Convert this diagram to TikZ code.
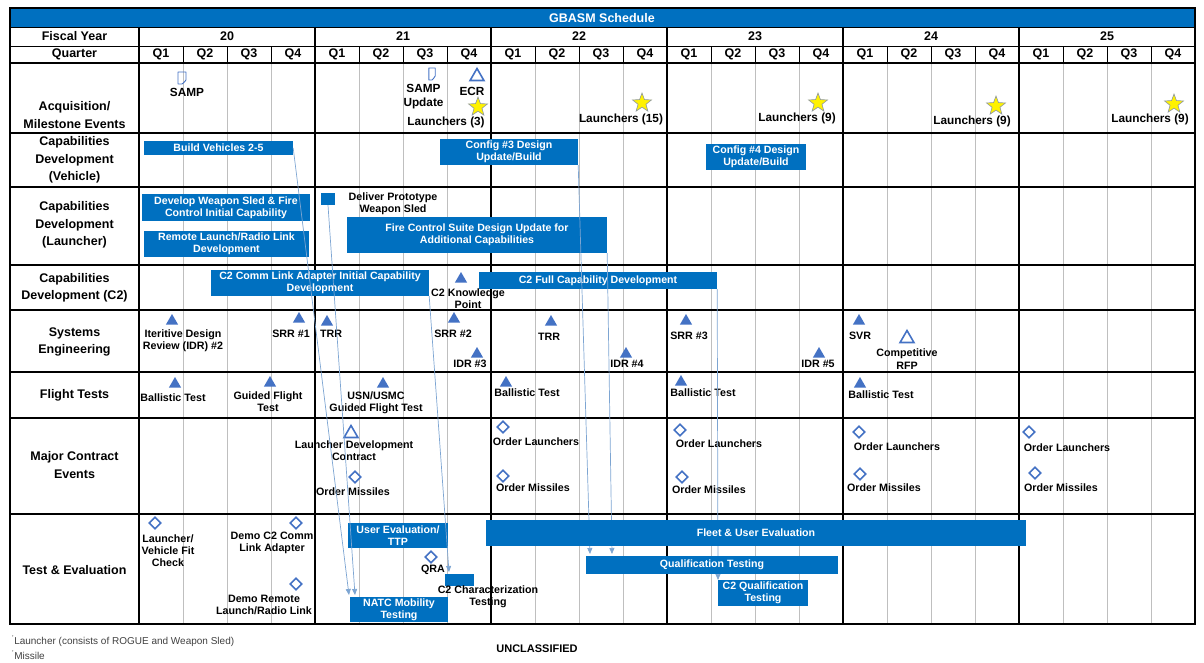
\documentclass[tikz,border=0pt]{standalone}
\usepackage{fontspec}
\setmainfont{Liberation Sans}
\usetikzlibrary{shapes.geometric,arrows.meta}

\definecolor{barblue}{RGB}{0,112,192}
\definecolor{mileblue}{RGB}{68,114,196}
\definecolor{linkblue}{RGB}{125,165,210}
\definecolor{gridgray}{RGB}{191,191,191}
\definecolor{starline}{RGB}{140,150,160}

\newcommand\hdfont{\fontsize{12.5}{17.5}\selectfont\bfseries}
\newcommand\acqfont{\fontsize{11.8}{14}\selectfont\bfseries}
\newcommand\evfont{\fontsize{10.7}{12.3}\selectfont\bfseries}
\newcommand\barfont{\fontsize{10.6}{12}\selectfont\bfseries}

\tikzset{
  hdr/.style={font=\hdfont, align=center, inner sep=0pt},
  bar/.style={fill=barblue, text=white, font=\barfont, align=center, inner sep=0pt},
  evt/.style={font=\evfont, align=center, inner sep=0pt},
  acq/.style={font=\acqfont, align=center, inner sep=0pt},
  tri/.style={regular polygon, regular polygon sides=3, fill=mileblue, inner sep=0pt, minimum size=14pt},
  opentri/.style={regular polygon, regular polygon sides=3, draw=mileblue, line width=1.6pt, inner sep=0pt, minimum size=16pt},
  dia/.style={diamond, draw=mileblue, line width=1.6pt, fill=white, inner sep=0pt, minimum size=12pt},
  launchstar/.style={star, star points=5, star point ratio=2.4, fill=yellow, draw=starline, line width=0.6pt, inner sep=0pt, minimum size=20pt},
  link/.style={draw=linkblue, line width=0.7pt, -{Triangle[width=5pt,length=6pt]}},
  docicon/.pic={\draw[mileblue, line width=0.9pt, line join=round] (-4,-6) -- (4,-6) -- (4,2) .. controls (3,5) and (1,4) .. (0,6) -- (-4,6) -- cycle;}
}

\begin{document}
\begin{tikzpicture}[x=1pt,y=-1pt]
    \useasboundingbox (0,0) rectangle (1204,662);

    % Title bar
    \fill[barblue] (10,8) rectangle (1195,27);
    \node[hdr, text=white] (title) at (602,18) {GBASM Schedule};

    % Grid
    \foreach \i in {1,...,23}{
        \draw[line width=0.8pt] ({139+44*\i},46) -- ({139+44*\i},63);
        \pgfmathtruncatemacro\r{mod(\i,4)}
        \ifnum\r>0 \draw[gridgray, line width=0.8pt] ({139+44*\i},63) -- ({139+44*\i},624); \fi
    }
    \foreach \x in {139,315,491,667,843,1019} \draw[line width=1.6pt] (\x,27) -- (\x,624);
    \foreach \y in {63,133,187,265,310,372,418,514} \draw[line width=1.6pt] (10,\y) -- (1195,\y);
    \draw[line width=1pt] (10,27) -- (1195,27) (10,46) -- (1195,46);
    \draw[line width=1.8pt] (10,8) rectangle (1195,624);

    % Header
    \node[hdr] (fy) at (74.5,36.5) {Fiscal Year};
    \node[hdr] (qtr) at (74.5,54.5) {Quarter};
    \foreach \k/\yr in {0/20,1/21,2/22,3/23,4/24,5/25}{
        \node[hdr] (fy\yr) at ({227+176*\k},36.5) {\yr};
        \foreach \q in {1,...,4}
            \node[hdr] (q\yr\q) at ({117+176*\k+44*\q},54.5) {Q\q};
    }

    % Row labels
    \node[hdr] (lacq) at (74.5,115) {Acquisition/\\Milestone Events};
    \node[hdr] (lveh) at (74.5,160) {Capabilities\\Development\\(Vehicle)};
    \node[hdr] (llch) at (74.5,225) {Capabilities\\Development\\(Launcher)};
    \node[hdr] (lc2) at (74.5,288) {Capabilities\\Development (C2)};
    \node[hdr] (lse) at (74.5,342) {Systems\\Engineering};
    \node[hdr] (lft) at (74.5,395) {Flight Tests};
    \node[hdr] (lmce) at (74.5,465) {Major Contract\\Events};
    \node[hdr] (lte) at (74.5,570) {Test \& Evaluation};

    % Acquisition / milestones
    \pic (sampdoc) at (182,78) {docicon};
    \node[acq] (samp) at (187,92) {SAMP};
    \pic[xscale=0.8] (sampupdoc) at (432,74) {docicon};
    \node[acq] (sampup) at (423.5,97) {SAMP\\Update};
    \node[opentri] (ecrtri) at (477,76.5) {};
    \node[acq] (ecr) at (472,91) {ECR};
    \node[launchstar] (st1) at (478,107) {};
    \node[acq] (ln1) at (446,122) {Launchers (3)};
    \node[launchstar] (st2) at (642,103) {};
    \node[acq] (ln2) at (621,119) {Launchers (15)};
    \node[launchstar] (st3) at (818,103) {};
    \node[acq] (ln3) at (797,118) {Launchers (9)};
    \node[launchstar] (st4) at (996,106) {};
    \node[acq] (ln4) at (972,121) {Launchers (9)};
    \node[launchstar] (st5) at (1174,104) {};
    \node[acq] (ln5) at (1150,119) {Launchers (9)};

    % Capability bars
    \node[bar, minimum width=149pt, minimum height=14pt] (bv) at (218.5,148) {Build Vehicles 2-5};
    \node[bar, minimum width=138pt, minimum height=26pt] (cfg3) at (509,152) {Config \#3 Design\\Update/Build};
    \node[bar, minimum width=100pt, minimum height=26pt] (cfg4) at (756,157) {Config \#4 Design\\Update/Build};
    \node[bar, minimum width=168pt, minimum height=27pt] (dws) at (226,207.5) {Develop Weapon Sled \& Fire\\Control Initial Capability};
    \node[bar, minimum width=165pt, minimum height=26pt] (rlr) at (226.5,244) {Remote Launch/Radio Link\\Development};
    \node[bar, minimum width=14pt, minimum height=12pt] (sq) at (328,199) {};
    \node[evt] (dpws) at (393,204) {Deliver Prototype\\Weapon Sled};
    \node[bar, minimum width=260pt, minimum height=36pt] (fcs) at (477,235) {Fire Control Suite Design Update for\\Additional Capabilities};
    \node[bar, minimum width=218pt, minimum height=26pt] (c2a) at (320,283) {C2 Comm Link Adapter Initial Capability\\Development};
    \node[tri] (kptri) at (461,279) {};
    \node[evt] (kp) at (468,298.5) {C2 Knowledge\\Point};
    \node[bar, minimum width=238pt, minimum height=17pt] (c2f) at (598,280.5) {C2 Full Capability Development};

    % Systems engineering
    \node[tri] (idr2tri) at (172,321) {};
    \node[evt] (idr2) at (183,340.5) {Iteritive Design\\Review (IDR) \#2};
    \node[tri] (srr1tri) at (299,319) {};
    \node[evt] (srr1) at (291,334) {SRR \#1};
    \node[tri] (trr1tri) at (327,322) {};
    \node[evt] (trr1) at (331,334) {TRR};
    \node[tri] (srr2tri) at (454,319) {};
    \node[evt] (srr2) at (453,334) {SRR \#2};
    \node[tri] (idr3tri) at (477,354) {};
    \node[evt] (idr3) at (470,364) {IDR \#3};
    \node[tri] (trr2tri) at (551,322) {};
    \node[evt] (trr2) at (549,337) {TRR};
    \node[tri] (idr4tri) at (626,354) {};
    \node[evt] (idr4) at (627,364) {IDR \#4};
    \node[tri] (srr3tri) at (686,321) {};
    \node[evt] (srr3) at (689,336) {SRR \#3};
    \node[tri] (idr5tri) at (819,354) {};
    \node[evt] (idr5) at (818,364) {IDR \#5};
    \node[tri] (svrtri) at (859,321) {};
    \node[evt] (svr) at (860,336) {SVR};
    \node[opentri] (rfptri) at (907,338.5) {};
    \node[evt] (rfp) at (907,359) {Competitive\\RFP};

    % Flight tests
    \node[tri] (bt1tri) at (175,384) {};
    \node[evt] (bt1) at (173,398) {Ballistic Test};
    \node[tri] (gfttri) at (270,383) {};
    \node[evt] (gft) at (268,402) {Guided Flight\\Test};
    \node[tri] (usntri) at (383,384) {};
    \node[evt] (usn) at (376,403) {USN/USMC\\Guided Flight Test};
    \node[tri] (bt2tri) at (506,383) {};
    \node[evt] (bt2) at (527,393) {Ballistic Test};
    \node[tri] (bt3tri) at (681,382) {};
    \node[evt] (bt3) at (703,393) {Ballistic Test};
    \node[tri] (bt4tri) at (860,384) {};
    \node[evt] (bt4) at (881,395) {Ballistic Test};

    % Major contract events
    \node[opentri] (ldctri) at (351,433.5) {};
    \node[evt] (ldc) at (354,451) {Launcher Development\\Contract};
    \node[dia] (om1dia) at (355,477) {};
    \node[evt] (om1) at (353,492) {Order Missiles};
    \node[dia] (ol2dia) at (503,427) {};
    \node[evt] (ol2) at (536,442) {Order Launchers};
    \node[dia] (om2dia) at (503,476) {};
    \node[evt] (om2) at (533,488) {Order Missiles};
    \node[dia] (ol3dia) at (680,430) {};
    \node[evt] (ol3) at (719,444) {Order Launchers};
    \node[dia] (om3dia) at (682,477) {};
    \node[evt] (om3) at (709,490) {Order Missiles};
    \node[dia] (ol4dia) at (859,432) {};
    \node[evt] (ol4) at (897,447) {Order Launchers};
    \node[dia] (om4dia) at (860,474) {};
    \node[evt] (om4) at (884,488) {Order Missiles};
    \node[dia] (ol5dia) at (1029,432) {};
    \node[evt] (ol5) at (1067,448) {Order Launchers};
    \node[dia] (om5dia) at (1035,473) {};
    \node[evt] (om5) at (1061,488) {Order Missiles};

    % Test & evaluation
    \node[dia] (fitdia) at (155,523) {};
    \node[evt] (fit) at (168,550.5) {Launcher/\\Vehicle Fit\\Check};
    \node[dia] (dc2dia) at (296,523) {};
    \node[evt] (dc2) at (272,543) {Demo C2 Comm\\Link Adapter};
    \node[dia] (drldia) at (296,584) {};
    \node[evt] (drl) at (264,605) {Demo Remote\\Launch/Radio Link};
    \node[bar, minimum width=100pt, minimum height=25pt] (uet) at (398,535.5) {User Evaluation/\\TTP};
    \node[dia] (qradia) at (431,557) {};
    \node[evt] (qra) at (433,570) {QRA};
    \node[bar, minimum width=29pt, minimum height=12pt] (c2c) at (459.5,580) {};
    \node[evt] (c2ct) at (488,597) {C2 Characterization\\Testing};
    \node[bar, minimum width=98pt, minimum height=25pt] (natc) at (399,609.5) {NATC Mobility\\Testing};
    \node[bar, minimum width=90pt, minimum height=26pt] (c2q) at (763,593) {C2 Qualification\\Testing};

    % Links
    \coordinate (natcin1) at (349,595);
    \coordinate (natcin2) at (355,595);
    \coordinate (c2cin) at (449,572);
    \coordinate (qualin1) at (590,554);
    \coordinate (qualin2) at (612,554);
    \coordinate (c2qin) at (718,580);
    \draw[link] (bv.east) -- (natcin1);
    \draw[link] (sq.south) -- (natcin2);
    \draw[link] (c2a.south east) -- (c2cin);
    \draw[link] (cfg3.south east) -- (qualin1);
    \draw[link] (fcs.south east) -- (qualin2);
    \draw[link] (c2f.south east) -- (c2qin);

    \node[bar, minimum width=540pt, minimum height=26pt] (fue) at (756,533) {Fleet \& User Evaluation};
    \node[bar, minimum width=252pt, minimum height=18pt] (qual) at (712,565) {Qualification Testing};

    % Notes
    \node[anchor=west, inner sep=0pt, font=\fontsize{10}{12}\selectfont, text=black!75] (note1) at (12,641) {\textsuperscript{'}Launcher (consists of ROGUE and Weapon Sled)};
    \node[anchor=west, inner sep=0pt, font=\fontsize{10}{12}\selectfont, text=black!75] (note2) at (12,655) {\textsuperscript{'}Missile};
    \node[font=\fontsize{11}{13}\selectfont\bfseries] (uncl) at (537,649) {UNCLASSIFIED};
\end{tikzpicture}
\end{document}
